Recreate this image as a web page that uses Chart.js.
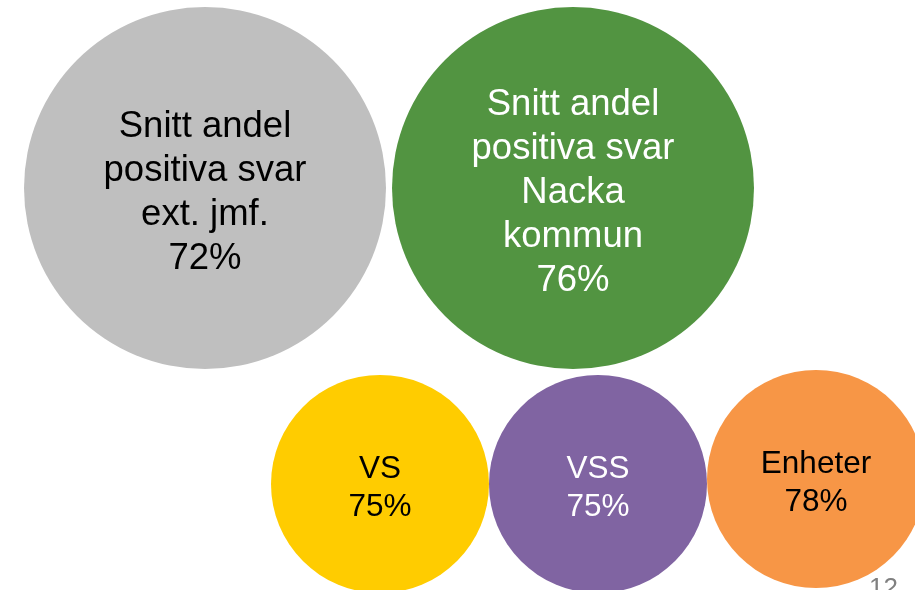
<!DOCTYPE html>
<html>
<head>
<meta charset="utf-8">
<script src="https://cdn.jsdelivr.net/npm/chart.js@4"></script>
<style>
  html, body { margin: 0; padding: 0; background: #fff; overflow: hidden; }
  #wrap { width: 915px; height: 590px; }
</style>
</head>
<body>
<div id="wrap"><canvas id="bubbleChart" width="915" height="590"></canvas></div>
<script>
// Data
const categories = [
  ['Snitt andel', 'positiva svar', 'ext. jmf.'],
  ['Snitt andel', 'positiva svar', 'Nacka', 'kommun'],
  ['VS'],
  ['VSS'],
  ['Enheter']
];
const values = [72, 76, 75, 75, 78];
const pageNumber = '12';

// Layout (scale units = px) and styling, kept apart from the data
const posX = [205, 573, 380, 598, 816];
const posY = [188, 188, 484, 484, 479];
const radii = [181, 181, 109, 109, 109];
const fills = ['#BFBFBF', '#529441', '#FFCC00', '#8064A2', '#F79646'];
const textColors = ['#000000', '#FFFFFF', '#000000', '#FFFFFF', '#000000'];
const fontFamily = "'Liberation Sans', Arial, sans-serif";

// Write the labels inside each bubble
const bubbleLabels = {
  id: 'bubbleLabels',
  afterDatasetsDraw(chart) {
    const ctx = chart.ctx;
    const meta = chart.getDatasetMeta(0);
    ctx.save();
    ctx.textAlign = 'center';
    ctx.textBaseline = 'alphabetic';
    meta.data.forEach((pt, i) => {
      const lines = categories[i].concat([values[i] + '%']);
      const big = radii[i] > 150;
      const size = big ? 36.5 : 31.5;
      const lh = big ? 44 : 38;
      ctx.font = size + 'px ' + fontFamily;
      ctx.fillStyle = textColors[i];
      const n = lines.length;
      lines.forEach((line, j) => {
        const y = pt.y + (j - (n - 1) / 2) * lh + size * 0.4;
        ctx.fillText(line, pt.x, y);
      });
    });
    // slide number in the corner
    ctx.font = '26px ' + fontFamily;
    ctx.fillStyle = '#808080';
    ctx.textAlign = 'left';
    ctx.fillText(pageNumber, 869, 596);
    ctx.restore();
  }
};

document.addEventListener('DOMContentLoaded', () => {
  const ctx = document.getElementById('bubbleChart');
  new Chart(ctx, {
    type: 'bubble',
    data: {
      datasets: [{
        data: values.map((v, i) => ({ x: posX[i], y: posY[i], r: radii[i] })),
        backgroundColor: fills,
        borderWidth: 0,
        hoverBorderWidth: 0,
        clip: false
      }]
    },
    options: {
      responsive: false,
      animation: false,
      events: [],
      layout: { padding: 0, autoPadding: false },
      plugins: {
        legend: { display: false },
        tooltip: { enabled: false }
      },
      scales: {
        x: { display: false, min: 0, max: 915 },
        y: { display: false, min: 0, max: 590, reverse: true }
      }
    },
    plugins: [bubbleLabels]
  });
});
</script>
</body>
</html>
